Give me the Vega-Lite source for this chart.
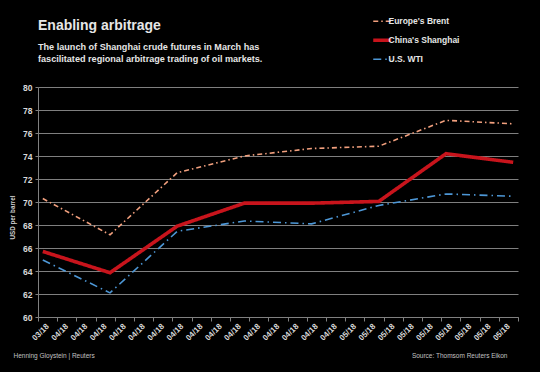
{
  "$schema": "https://vega.github.io/schema/vega-lite/v6.json",
  "width": 480,
  "height": 230,
  "autosize": {"type": "none"},
  "padding": {"left": 38, "top": 87, "right": 22, "bottom": 55},
  "background": "#000000",
  "config": {"font": "Liberation Sans", "view": {"stroke": null}},
  "title": {
    "text": "Enabling arbitrage",
    "subtitle": ["The launch of Shanghai crude futures in March has", "fascilitated regional arbitrage trading of oil markets."],
    "anchor": "start",
    "frame": "group",
    "offset": -47,
    "font": "Liberation Sans",
    "fontSize": 14,
    "fontWeight": "bold",
    "color": "#e6e6e6",
    "subtitleFont": "Liberation Sans",
    "subtitleFontSize": 9.1,
    "subtitleFontWeight": "bold",
    "subtitleColor": "#e6e6e6",
    "subtitleLineHeight": 12,
    "subtitlePadding": 10
  },
  "data": {
    "values": [
      {"date": "2018-03-30T12:00:00Z", "series": "Europe's Brent", "price": 70.3},
      {"date": "2018-04-06T12:00:00Z", "series": "Europe's Brent", "price": 67.15},
      {"date": "2018-04-13T12:00:00Z", "series": "Europe's Brent", "price": 72.55},
      {"date": "2018-04-20T12:00:00Z", "series": "Europe's Brent", "price": 74.0},
      {"date": "2018-04-27T12:00:00Z", "series": "Europe's Brent", "price": 74.65},
      {"date": "2018-05-04T12:00:00Z", "series": "Europe's Brent", "price": 74.85},
      {"date": "2018-05-11T12:00:00Z", "series": "Europe's Brent", "price": 77.1},
      {"date": "2018-05-18T12:00:00Z", "series": "Europe's Brent", "price": 76.8},
      {"date": "2018-03-30T12:00:00Z", "series": "China's Shanghai", "price": 65.7},
      {"date": "2018-04-06T12:00:00Z", "series": "China's Shanghai", "price": 63.85},
      {"date": "2018-04-13T12:00:00Z", "series": "China's Shanghai", "price": 67.9},
      {"date": "2018-04-20T12:00:00Z", "series": "China's Shanghai", "price": 69.9},
      {"date": "2018-04-27T12:00:00Z", "series": "China's Shanghai", "price": 69.9},
      {"date": "2018-05-04T12:00:00Z", "series": "China's Shanghai", "price": 70.05},
      {"date": "2018-05-11T12:00:00Z", "series": "China's Shanghai", "price": 74.2},
      {"date": "2018-05-18T12:00:00Z", "series": "China's Shanghai", "price": 73.45},
      {"date": "2018-03-30T12:00:00Z", "series": "U.S. WTI", "price": 64.95},
      {"date": "2018-04-06T12:00:00Z", "series": "U.S. WTI", "price": 62.1},
      {"date": "2018-04-13T12:00:00Z", "series": "U.S. WTI", "price": 67.45},
      {"date": "2018-04-20T12:00:00Z", "series": "U.S. WTI", "price": 68.35},
      {"date": "2018-04-27T12:00:00Z", "series": "U.S. WTI", "price": 68.1},
      {"date": "2018-05-04T12:00:00Z", "series": "U.S. WTI", "price": 69.7},
      {"date": "2018-05-11T12:00:00Z", "series": "U.S. WTI", "price": 70.7},
      {"date": "2018-05-18T12:00:00Z", "series": "U.S. WTI", "price": 70.5}
    ]
  },
  "encoding": {
    "y": {
      "field": "price",
      "type": "quantitative",
      "scale": {"domain": [60, 80], "nice": false, "zero": false},
      "axis": {
        "values": [60, 62, 64, 66, 68, 70, 72, 74, 76, 78, 80],
        "title": "USD per barrel",
        "titleFont": "Liberation Sans",
        "titleFontSize": 6.3,
        "titleFontWeight": "bold",
        "titleColor": "#d0d0d0",
        "titleX": -26,
        "titleY": 130,
        "titleAngle": -90,
        "titleAlign": "center",
        "titleBaseline": "middle",
        "labelFont": "Liberation Sans",
        "labelFontSize": 8.5,
        "labelFontWeight": "bold",
        "labelColor": "#d9d9d9",
        "labelPadding": 3,
        "tickSize": 3,
        "tickColor": "#808080",
        "domainColor": "#808080",
        "grid": true,
        "gridColor": "#7f7f7f",
        "gridWidth": 1
      }
    },
    "color": {
      "field": "series",
      "type": "nominal",
      "scale": {
        "domain": ["Europe's Brent", "China's Shanghai", "U.S. WTI"],
        "range": ["#f2a07e", "#c8141c", "#4d97d6"]
      },
      "legend": {
        "title": null,
        "orient": "none",
        "legendX": 340,
        "legendY": -70,
        "padding": 0,
        "symbolType": "stroke",
        "symbolSize": 324,
        "rowPadding": 7,
        "labelOffset": 2,
        "labelFont": "Liberation Sans",
        "labelFontSize": 8.5,
        "labelFontWeight": "bold",
        "labelColor": "#e6e6e6",
        "encode": {
          "symbols": {
            "update": {
              "strokeWidth": {"signal": "datum.value === \"China's Shanghai\" ? 3.6 : 1.6"}
            }
          }
        }
      }
    },
    "strokeDash": {
      "field": "series",
      "type": "nominal",
      "scale": {
        "domain": ["Europe's Brent", "China's Shanghai", "U.S. WTI"],
        "range": [[5, 3, 1.5, 3], [1, 0], [8, 4, 1.5, 4]]
      },
      "legend": {
        "title": null,
        "orient": "none",
        "legendX": 340,
        "legendY": -70,
        "padding": 0,
        "symbolType": "stroke",
        "symbolSize": 324,
        "rowPadding": 7,
        "labelOffset": 2,
        "labelFont": "Liberation Sans",
        "labelFontSize": 8.5,
        "labelFontWeight": "bold",
        "labelColor": "#e6e6e6",
        "encode": {
          "symbols": {
            "update": {
              "strokeWidth": {"signal": "datum.value === \"China's Shanghai\" ? 3.6 : 1.6"}
            }
          }
        }
      }
    }
  },
  "layer": [
    {
      "transform": [{"filter": {"field": "series", "oneOf": ["Europe's Brent", "U.S. WTI"]}}],
      "mark": {"type": "line", "strokeWidth": 1.6},
      "encoding": {
        "x": {
          "field": "date",
          "type": "temporal",
          "scale": {"type": "utc", "domain": [1522368000000, 1526688000000]},
          "axis": {
            "orient": "bottom",
            "values": [1522368000000, 1522540800000, 1522713600000, 1522886400000, 1523059200000, 1523232000000, 1523404800000, 1523577600000, 1523750400000, 1523923200000, 1524096000000, 1524268800000, 1524441600000, 1524614400000, 1524787200000, 1524960000000, 1525132800000, 1525305600000, 1525478400000, 1525651200000, 1525824000000, 1525996800000, 1526169600000, 1526342400000, 1526515200000, 1526688000000],
            "format": "%m/%y",
            "labelExpr": "datum.value > 1526600000000 ? '' : datum.label",
            "labelAngle": -45,
            "labelAlign": "right",
            "labelBaseline": "middle",
            "labelOffset": 9.6,
            "labelPadding": 4,
            "labelOverlap": false,
            "labelFlush": false,
            "labelBound": false,
            "labelFont": "Liberation Sans",
            "labelFontSize": 8,
            "labelFontWeight": "bold",
            "labelColor": "#d9d9d9",
            "tickSize": 4,
            "tickColor": "#808080",
            "domainColor": "#808080",
            "grid": false,
            "title": "Henning Gloystein | Reuters",
            "titleFont": "Liberation Sans",
            "titleFontSize": 6.5,
            "titleFontWeight": "normal",
            "titleColor": "#c0c0c0",
            "titleX": -25,
            "titleY": 40,
            "titleAlign": "left",
            "titleAnchor": "start",
            "titleBaseline": "alphabetic"
          }
        }
      }
    },
    {
      "transform": [{"filter": {"field": "series", "equal": "China's Shanghai"}}],
      "mark": {"type": "line", "strokeWidth": 3.6},
      "encoding": {
        "x": {
          "field": "date",
          "type": "temporal",
          "scale": {"type": "utc", "domain": [1522368000000, 1526688000000]},
          "axis": {
            "orient": "top",
            "labels": false,
            "ticks": false,
            "domain": false,
            "grid": false,
            "title": "Source: Thomsom Reuters Eikon",
            "titleFont": "Liberation Sans",
            "titleFontSize": 6.5,
            "titleFontWeight": "normal",
            "titleColor": "#c0c0c0",
            "titleX": 469,
            "titleY": 270,
            "titleAlign": "right",
            "titleAnchor": "end",
            "titleBaseline": "alphabetic"
          }
        }
      }
    }
  ],
  "resolve": {"axis": {"x": "independent"}}
}
